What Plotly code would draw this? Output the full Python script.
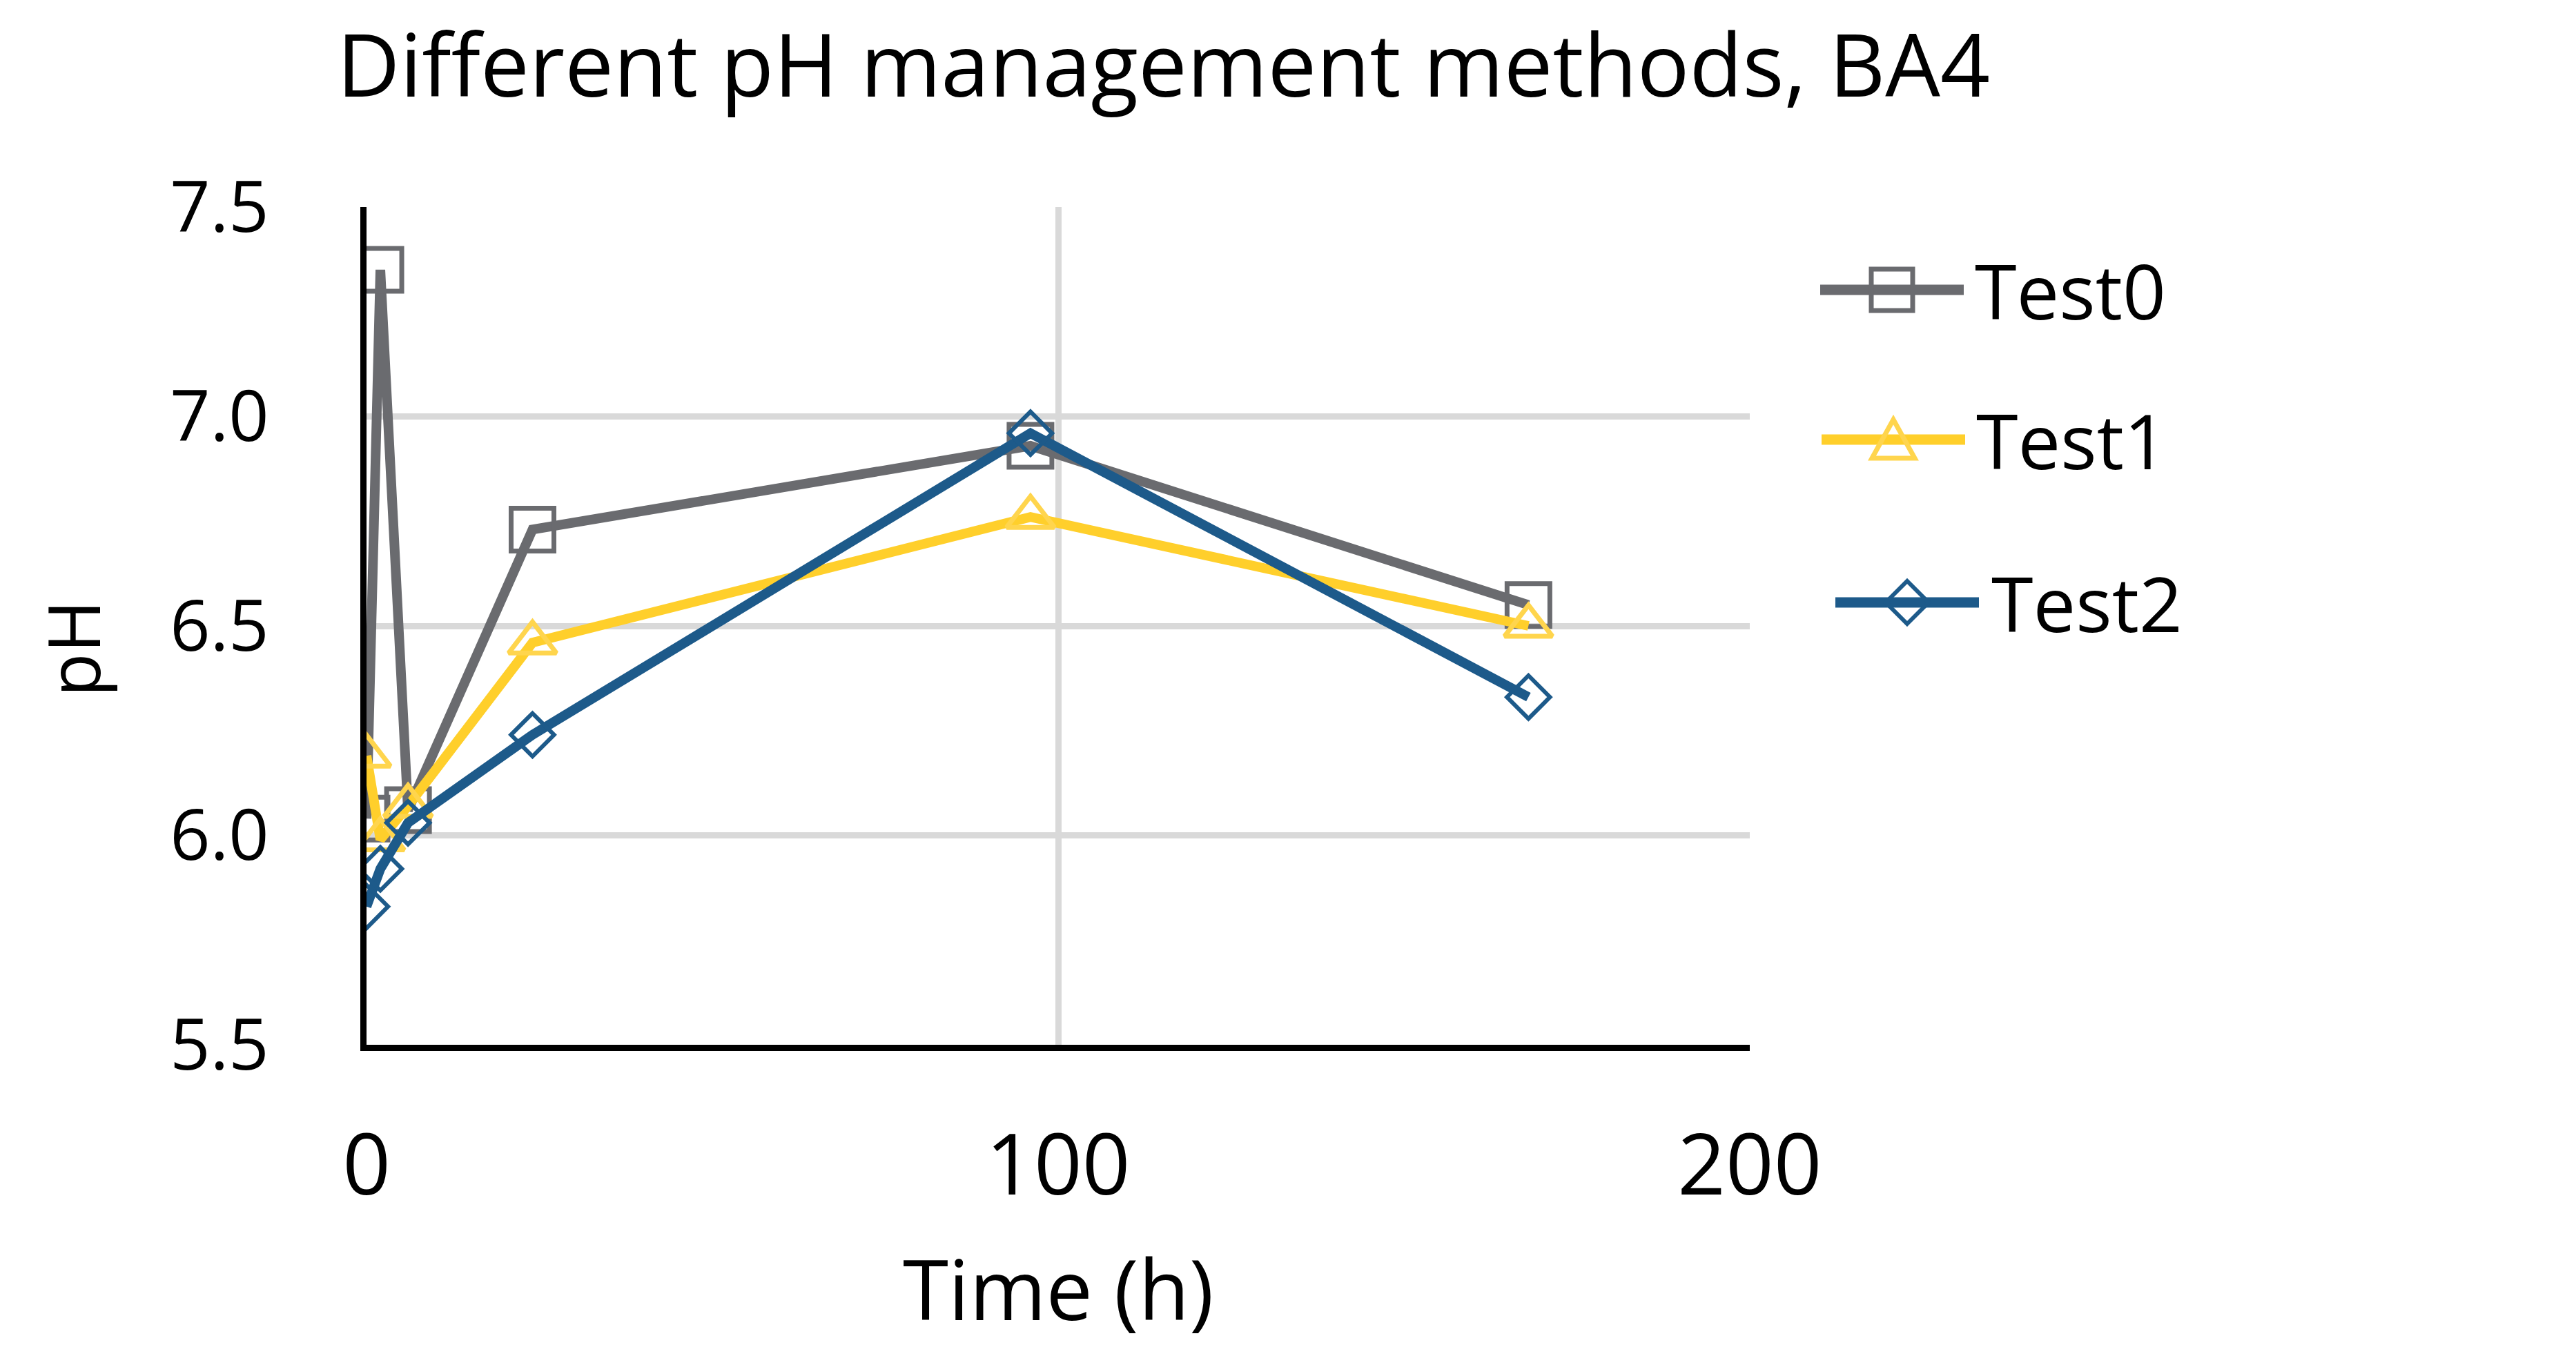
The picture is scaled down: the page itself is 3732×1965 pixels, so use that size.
import plotly.graph_objects as go

# ---- data ----
time_h = [0, 2, 6, 24, 96, 168]
test0 = [6.04, 7.35, 6.06, 6.73, 6.93, 6.55]
test1 = [6.19, 5.99, 6.07, 6.46, 6.76, 6.50]
test2 = [5.83, 5.92, 6.03, 6.24, 6.96, 6.33]
series_names = ["Test0", "Test1", "Test2"]
x_ticks = [0, 100, 200]
y_ticks = [5.5, 6.0, 6.5, 7.0, 7.5]
y_tick_text = ["5.5", "6.0", "6.5", "7.0", "7.5"]

# ---- style ----
W, H = 3732, 1965
L, R, T, B = 531, 2535, 300, 1514
FONT = "Open Sans"
GREY = "#6a6b6f"
YELLOW = "#ffcf2b"
YELLOW_M = "#ffd54d"
BLUE = "#1d5a8a"
GRID = "#d9d9d9"

fig = go.Figure()
fig.add_trace(go.Scatter(x=time_h, y=test0, name=series_names[0], mode="lines+markers",
                         line=dict(color=GREY, width=14),
                         marker=dict(symbol="square-open", size=62, color=GREY, line=dict(width=7, color=GREY))))
fig.add_trace(go.Scatter(x=time_h, y=test1, name=series_names[1], mode="lines+markers",
                         line=dict(color=YELLOW, width=14),
                         marker=dict(symbol="triangle-up-open", size=60, color=YELLOW_M, line=dict(width=7, color=YELLOW_M))))
fig.add_trace(go.Scatter(x=time_h, y=test2, name=series_names[2], mode="lines+markers",
                         line=dict(color=BLUE, width=14),
                         marker=dict(symbol="diamond-open", size=48, color=BLUE, line=dict(width=6, color=BLUE))))

pw, ph = R - L, B - T
def px(X):
    return (X - L) / pw
def py(Y):
    return (B - Y) / ph

shapes = []
# white patch from the legend box covering part of the right gridline (as in the reference)
shapes.append(dict(type="rect", xref="paper", yref="paper", x0=px(2534), x1=px(2620),
                   y0=py(578), y1=py(322), fillcolor="white", line=dict(width=0), layer="above"))

legend_rows = [
    (series_names[0], GREY, GREY, 2741, 420, 2859, "M-30,-30 H30 V30 H-30 Z", 7),
    (series_names[1], YELLOW, YELLOW_M, 2743, 637, 2861, "M-31,-27 L31,-27 L0,29 Z", 7),
    (series_names[2], BLUE, BLUE, 2763, 873, 2883, "M0,-31 L31,0 L0,31 L-31,0 Z", 6),
]
annotations = []
for name, lc, mc, cx, cy, tx, path, mw in legend_rows:
    shapes.append(dict(type="line", xref="paper", yref="paper", xsizemode="pixel", ysizemode="pixel",
                       xanchor=px(cx), yanchor=py(cy), x0=-104, x1=104, y0=0, y1=0,
                       line=dict(color=lc, width=15), layer="above"))
    shapes.append(dict(type="path", xref="paper", yref="paper", xsizemode="pixel", ysizemode="pixel",
                       xanchor=px(cx), yanchor=py(cy), path=path,
                       line=dict(color=mc, width=mw), fillcolor="rgba(0,0,0,0)", layer="above"))
    annotations.append(dict(text=name, xref="paper", yref="paper", x=px(tx), y=py(cy),
                            xanchor="left", yanchor="middle", showarrow=False,
                            font=dict(family=FONT, size=110, color="black")))

# axis titles
annotations.append(dict(text="Time (h)", xref="paper", yref="paper", x=0.5, y=py(1866),
                        xanchor="center", yanchor="middle", showarrow=False,
                        font=dict(family=FONT, size=120, color="black")))
annotations.append(dict(text="pH", xref="paper", yref="paper", x=px(104), y=py(940),
                        xanchor="center", yanchor="middle", showarrow=False, textangle=-90,
                        font=dict(family=FONT, size=104, color="black")))

fig.update_layout(
    width=W, height=H,
    margin=dict(l=L, r=W - R, t=T, b=H - B, pad=0),
    paper_bgcolor="white", plot_bgcolor="white",
    showlegend=False,
    title=dict(text="Different pH management methods, BA4", x=488 / W, xanchor="left",
               xref="container", yref="container", y=1 - 52 / H, yanchor="top",
               font=dict(family=FONT, size=126, color="black")),
    shapes=shapes, annotations=annotations,
    font=dict(family=FONT, color="black"),
)
fig.update_xaxes(range=[0, 200], tickvals=x_ticks, showgrid=True, gridcolor=GRID, gridwidth=9,
                 zeroline=False, showline=True, linecolor="black", linewidth=9, ticks="",
                 ticklabelstandoff=62, tickfont=dict(family=FONT, size=122, color="black"))
fig.update_yaxes(range=[5.5, 7.5], tickvals=y_ticks, ticktext=y_tick_text, showgrid=True,
                 gridcolor=GRID, gridwidth=9, zeroline=False, showline=True, linecolor="black",
                 linewidth=9, ticks="", ticklabelstandoff=112,
                 tickfont=dict(family=FONT, size=102, color="black"))

fig.write_html("out.html")
